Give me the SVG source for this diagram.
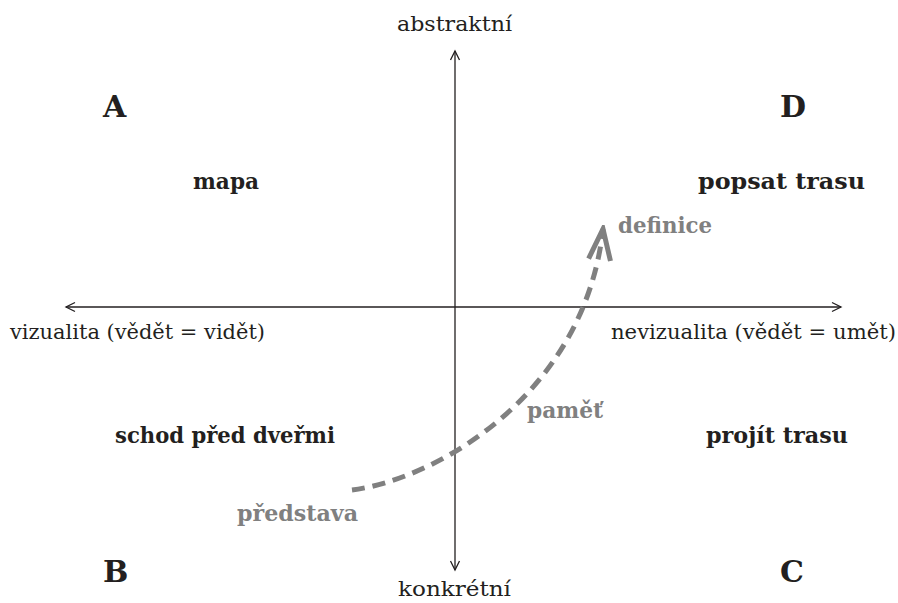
<svg xmlns="http://www.w3.org/2000/svg" width="898" height="603" viewBox="0 0 898 603">
<style>
.ax{font-family:"DejaVu Serif","Liberation Serif",serif;font-size:21px;fill:#231f20}
.q{font-family:"DejaVu Serif","Liberation Serif",serif;font-size:30px;font-weight:bold;fill:#231f20}
.lb{font-family:"DejaVu Serif","Liberation Serif",serif;font-size:22px;font-weight:bold;fill:#231f20}
.gr{font-family:"DejaVu Serif","Liberation Serif",serif;font-size:22px;font-weight:bold;fill:#808080}
.axis{stroke:#231f20;stroke-width:1.3;fill:none}
</style>
<defs>
<marker id="ah" markerWidth="12" markerHeight="12" refX="10" refY="6" orient="auto-start-reverse" markerUnits="userSpaceOnUse" viewBox="0 0 12 12">
<path d="M1,1.5 L10,6 L1,10.5" fill="none" stroke="#231f20" stroke-width="1.3"/>
</marker>
<marker id="gh" markerWidth="40" markerHeight="40" refX="36" refY="20" orient="auto" markerUnits="userSpaceOnUse" viewBox="0 0 40 40">
<path d="M5,9 L36,20 L5,31" fill="none" stroke="#808080" stroke-width="5"/>
</marker>
</defs>
<g id="connectors">
<line class="axis" x1="455" y1="570" x2="455" y2="51" marker-end="url(#ah)" marker-start="url(#ah)"/>
<line class="axis" x1="66" y1="307" x2="841" y2="307" marker-end="url(#ah)" marker-start="url(#ah)"/>
<path d="M352,490 C432,480 584,398 603,229" fill="none" stroke="#808080" stroke-width="5" stroke-dasharray="13 8" marker-end="url(#gh)"/>
</g>
<g id="axis-labels">
<text class="ax" x="397" y="31" textLength="115" lengthAdjust="spacingAndGlyphs">abstraktní</text>
<text class="ax" x="398" y="596" textLength="113" lengthAdjust="spacingAndGlyphs">konkrétní</text>
<text class="ax" x="10" y="339" textLength="255" lengthAdjust="spacingAndGlyphs">vizualita (vědět = vidět)</text>
<text class="ax" x="611" y="339" textLength="285" lengthAdjust="spacingAndGlyphs">nevizualita (vědět = umět)</text>
</g>
<g id="quadrant-A"><text class="q" x="103" y="117">A</text></g>
<g id="quadrant-D"><text class="q" x="780" y="117">D</text></g>
<g id="quadrant-B"><text class="q" x="103" y="582">B</text></g>
<g id="quadrant-C"><text class="q" x="780" y="582">C</text></g>
<g id="mapa"><text class="lb" x="193" y="189" textLength="66" lengthAdjust="spacingAndGlyphs">mapa</text></g>
<g id="popsat-trasu"><text class="lb" x="698" y="189" textLength="167" lengthAdjust="spacingAndGlyphs">popsat trasu</text></g>
<g id="schod"><text class="lb" x="115" y="443" textLength="220" lengthAdjust="spacingAndGlyphs">schod před dveřmi</text></g>
<g id="projit-trasu"><text class="lb" x="706" y="443" textLength="142" lengthAdjust="spacingAndGlyphs">projít trasu</text></g>
<g id="definice"><text class="gr" x="618" y="233" textLength="94" lengthAdjust="spacingAndGlyphs">definice</text></g>
<g id="pamet"><text class="gr" x="527" y="418" textLength="76" lengthAdjust="spacingAndGlyphs">paměť</text></g>
<g id="predstava"><text class="gr" x="237" y="521" textLength="121" lengthAdjust="spacingAndGlyphs">představa</text></g>
</svg>
